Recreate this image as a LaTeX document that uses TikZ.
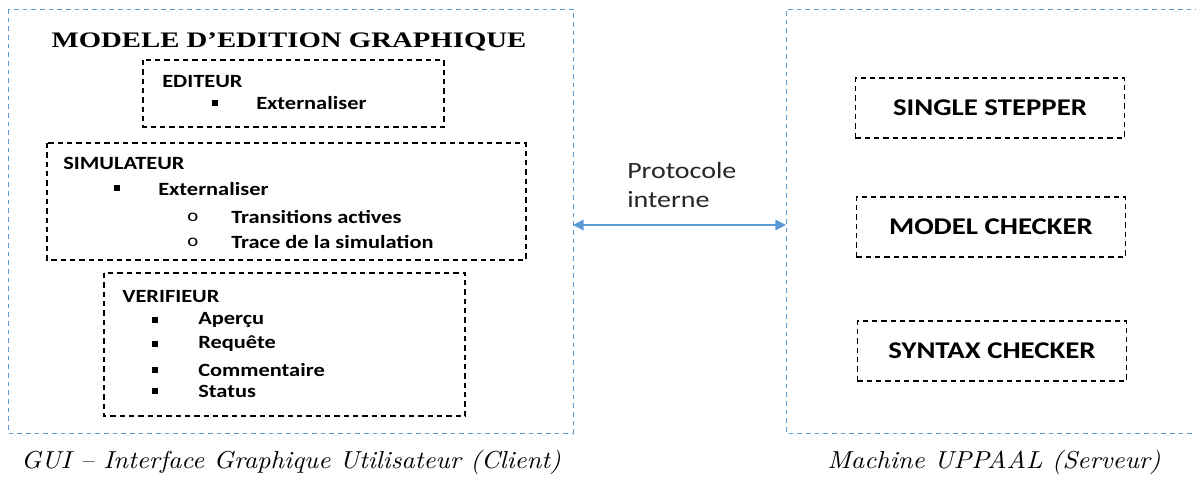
\documentclass[tikz,border=0pt]{standalone}
\usepackage{fontspec}
\setsansfont{Carlito}[FakeStretch=1.2]
\newfontfamily\titre{Liberation Serif}[FakeStretch=1.3]
\newfontfamily\legfont{lmroman10}[Extension=.otf, UprightFont=*-regular, ItalicFont=*-italic, FakeStretch=1.07]
\usetikzlibrary{arrows.meta}
\definecolor{cadre}{HTML}{5B9BD5}

\begin{document}
\begin{tikzpicture}[x=0.75pt, y=-0.75pt]
\tikzstyle{every node}=[font=\sffamily\bfseries\fontsize{14}{16}\selectfont, inner sep=0pt]
\tikzstyle{bloc}=[draw, dash pattern=on 4pt off 3pt, line width=0.9pt]
\tikzstyle{zone}=[draw=cadre, dash pattern=on 3.5pt off 3pt, line width=0.7pt]
\tikzstyle{module}=[bloc, minimum width=202pt, minimum height=45pt, font=\sffamily\bfseries\fontsize{18}{20}\selectfont]
\tikzstyle{puce}=[fill, minimum size=4.5pt, inner sep=0pt]
\tikzstyle{rond}=[font=\sffamily\fontsize{13}{15}\selectfont]
\tikzstyle{legende}=[font=\legfont\itshape\fontsize{18.4}{21}\selectfont]

\useasboundingbox (0, 0) rectangle (1196, 477);

\draw[zone] (8, 9) rectangle (573, 433); % client
\draw[zone] (1200, 9) -- (786, 9) -- (786, 433) -- (1200, 433); % serveur

\node (titre) at (289, 42) {\titre\bfseries\fontsize{16.6}{18}\selectfont MODELE D’EDITION GRAPHIQUE};

\draw[bloc] (143, 60) rectangle (444, 127); % editeur
    \node[right] (editeur) at (162, 82) {EDITEUR};
    \node[puce] (p1) at (215, 103) {};
    \node[right] (ext1) at (256, 103) {Externaliser};

\draw[bloc] (47, 143) rectangle (526, 260); % simulateur
    \node[right] (simulateur) at (63, 163) {SIMULATEUR};
    \node[puce] (p2) at (117, 188) {};
    \node[right] (ext2) at (158, 189) {Externaliser};
    \node[rond, right] (o1) at (187, 217) {o};
    \node[right] (trans) at (231, 217) {Transitions actives};
    \node[rond, right] (o2) at (187, 242) {o};
    \node[right] (trace) at (231, 242) {Trace de la simulation};

\draw[bloc] (104, 273) rectangle (465, 416); % verifieur
    \node[right] (verifieur) at (122, 297) {VERIFIEUR};
    \node[puce] (p3) at (155, 320) {};
    \node[right] (apercu) at (198, 320) {Aperçu};
    \node[puce] (p4) at (155, 344) {};
    \node[right] (requete) at (198, 344) {Requête};
    \node[puce] (p5) at (155, 370) {};
    \node[right] (comm) at (198, 370) {Commentaire};
    \node[puce] (p6) at (155, 391) {};
    \node[right] (status) at (198, 391) {Status};

\node[module] (stepper) at (990, 108) {SINGLE STEPPER};
\node[module] (model) at (991, 227) {MODEL CHECKER};
\node[module] (syntax) at (992, 351) {SYNTAX CHECKER};

\coordinate (gauche) at (573, 225);
\coordinate (droite) at (786, 225);
\draw[{Triangle[length=8pt, width=8pt]}-{Triangle[length=8pt, width=8pt]}, cadre, line width=1.1pt] (gauche) -- (droite);
    \node[right, font=\sffamily\fontsize{17.5}{20}\selectfont, text=black!85] (proto) at (627, 170) {Protocole};
    \node[right, font=\sffamily\fontsize{17.5}{20}\selectfont, text=black!85] (interne) at (627, 200) {interne};

\node[legende] (client) at (291, 462) {GUI – Interface Graphique Utilisateur (Client)};
\node[legende] (serveur) at (994, 462) {Machine UPPAAL (Serveur)};

\end{tikzpicture}
\end{document}
